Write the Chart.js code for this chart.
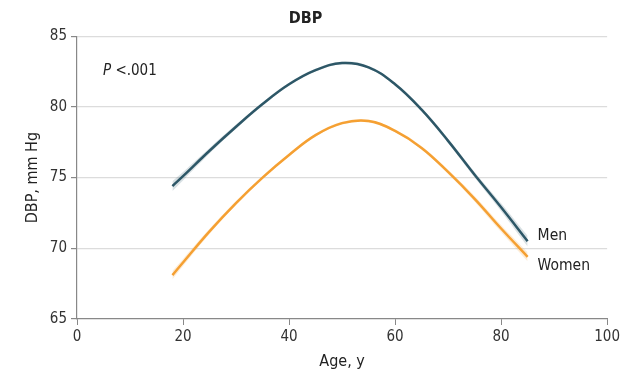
<!DOCTYPE html>
<html>
<head>
<meta charset="utf-8">
<script src="https://cdn.jsdelivr.net/npm/chart.js@4"></script>
<style>
  html, body { margin: 0; padding: 0; background: #fff; }
  #wrap { width: 623px; height: 374px; }
</style>
</head>
<body>
<div id="wrap"><canvas id="myChart" width="623" height="374"></canvas></div>
<script>
// age (years) and modelled diastolic pressure
var ages = [18, 20, 25, 30, 35, 40, 45, 50, 55, 60, 65, 70, 75, 80, 85];
var men = [74.4, 75.1, 76.9, 78.6, 80.2, 81.6, 82.6, 83.1, 82.8, 81.6, 79.8, 77.6, 75.2, 72.9, 70.5];
var women = [68.1, 69.0, 71.2, 73.2, 75.0, 76.6, 78.0, 78.85, 79.0, 78.3, 77.1, 75.4, 73.5, 71.4, 69.4];
// half-width of the 95% band around each curve
var menCI = [0.35, 0.3, 0.2, 0.15, 0.12, 0.1, 0.1, 0.1, 0.1, 0.1, 0.12, 0.15, 0.2, 0.28, 0.38];
var womenCI = [0.3, 0.25, 0.18, 0.14, 0.12, 0.1, 0.1, 0.1, 0.1, 0.1, 0.12, 0.15, 0.2, 0.25, 0.32];
var xTicks = [0, 20, 40, 60, 80, 100];
var yTicks = [65, 70, 75, 80, 85];

var FONT = '"DejaVu Sans Condensed", "Liberation Sans Narrow", sans-serif';
var menColor = '#2e5767';
var womenColor = '#f5a033';

function pts(vals, off, sign) {
  return ages.map(function (a, i) {
    return { x: a, y: off ? vals[i] + sign * off[i] : vals[i] };
  });
}

var labelPlugin = {
  id: 'labels',
  afterDatasetsDraw: function (chart) {
    var ctx = chart.ctx;
    var area = chart.chartArea;
    ctx.save();
    ctx.fillStyle = '#222';
    ctx.textBaseline = 'middle';
    // series names next to the last point
    var mPts = chart.getDatasetMeta(4).data;
    var wPts = chart.getDatasetMeta(5).data;
    var m = mPts[mPts.length - 1], w = wPts[wPts.length - 1];
    ctx.font = '15.5px ' + FONT;
    ctx.fillText('Men', m.x + 10, m.y - 5);
    ctx.fillText('Women', w.x + 10, w.y + 9);
    // P value
    ctx.font = 'italic 15px ' + FONT;
    ctx.fillText('P', area.left + 26, area.top + 35);
    var pw = ctx.measureText('P ').width;
    ctx.font = '15px ' + FONT;
    ctx.fillText('<.001', area.left + 26 + pw, area.top + 35);
    ctx.restore();
  }
};

var lineOpts = { pointRadius: 0, tension: 0.4 };
function ds(extra) { return Object.assign({}, lineOpts, extra); }

var ctx = document.getElementById('myChart').getContext('2d');
var myChart = new Chart(ctx, {
  type: 'line',
  data: {
    datasets: [
      ds({ data: pts(men, menCI, 1), fill: '+1', backgroundColor: 'rgba(46,87,103,0.18)', borderWidth: 0 }),
      ds({ data: pts(men, menCI, -1), fill: false, borderWidth: 0 }),
      ds({ data: pts(women, womenCI, 1), fill: '+1', backgroundColor: 'rgba(245,160,51,0.2)', borderWidth: 0 }),
      ds({ data: pts(women, womenCI, -1), fill: false, borderWidth: 0 }),
      ds({ label: 'Men', data: pts(men), borderColor: menColor, borderWidth: 2.5, fill: false }),
      ds({ label: 'Women', data: pts(women), borderColor: womenColor, borderWidth: 2.5, fill: false })
    ]
  },
  options: {
    responsive: false,
    animation: false,
    layout: { padding: { top: 0, right: 12, left: 0, bottom: 2 } },
    plugins: {
      legend: { display: false },
      tooltip: { enabled: false },
      title: {
        display: true,
        text: 'DBP',
        color: '#222',
        font: { family: FONT, size: 16, weight: 'bold' },
        padding: { top: 9, bottom: 8 }
      }
    },
    scales: {
      x: {
        type: 'linear',
        min: 0, max: 100,
        afterBuildTicks: function (s) { s.ticks = xTicks.map(function (v) { return { value: v }; }); },
        afterFit: function (s) { s.height = 53; },
        ticks: { color: '#333', font: { family: FONT, size: 15 }, padding: 3, maxRotation: 0 },
        grid: { drawOnChartArea: false, tickLength: 6, tickColor: '#888' },
        border: { color: '#888', width: 1.2 },
        title: { display: true, text: 'Age, y', color: '#222', font: { family: FONT, size: 16 }, padding: { top: 0, bottom: 1 } }
      },
      y: {
        type: 'linear',
        min: 65, max: 85,
        afterBuildTicks: function (s) { s.ticks = yTicks.map(function (v) { return { value: v }; }); },
        afterFit: function (s) { s.width = 77; },
        ticks: { color: '#333', font: { family: FONT, size: 15 }, padding: 4 },
        grid: {
          color: function (c) { return c.tick && c.tick.value === 65 ? 'rgba(0,0,0,0)' : '#dcdcdc'; },
          lineWidth: 1.2,
          tickLength: 6,
          tickColor: '#888'
        },
        border: { color: '#888', width: 1.2 },
        title: { display: true, text: 'DBP, mm Hg', color: '#222', font: { family: FONT, size: 16 }, padding: { top: 23, bottom: 0 } }
      }
    }
  },
  plugins: [labelPlugin]
});
</script>
</body>
</html>
